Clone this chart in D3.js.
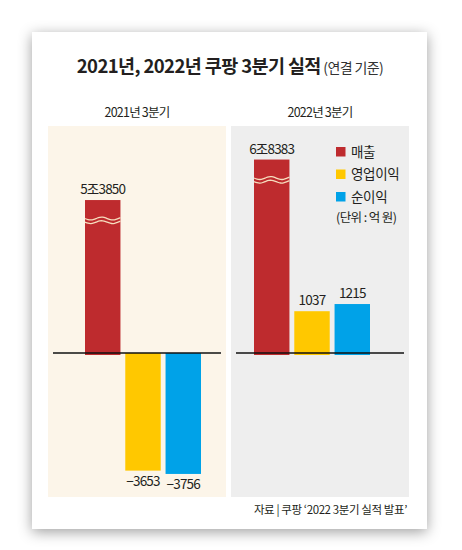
<!DOCTYPE html>
<html><head><meta charset="utf-8">
<script src="https://cdn.jsdelivr.net/npm/d3@7"></script>
<style>
html,body{margin:0;padding:0;background:#fff;}
svg{display:block;font-family:"Noto Sans CJK KR","Noto Sans",sans-serif;}
</style></head>
<body>
<svg id="c" width="462" height="550"></svg>
<script>
// ---- data ----
const categories = ["매출", "영업이익", "순이익"];
const colors = ["#BE2B2E", "#FFC800", "#00A2E8"];
const panels = ["2021년 3분기", "2022년 3분기"];
const values2021 = [53850, -3653, -3756];
const values2022 = [68383, 1037, 1215];
const labels2021 = ["5조3850", "−3653", "−3756"];
const labels2022 = ["6조8383", "1037", "1215"];
// displayed height of the broken (wavy-cut) sales bar, in 억 원
const brokenShown = [4750, 4800];
const title = "2021년, 2022년 쿠팡 3분기 실적";
const titleNote = "(연결 기준)";
const unitNote = "(단위 : 억 원)";
const source = "자료 | 쿠팡 ‘2022 3분기 실적 발표’";

const svg = d3.select("#c");
const defs = svg.append("defs");
const f = defs.append("filter").attr("id","sh").attr("x","-20%").attr("y","-20%").attr("width","140%").attr("height","140%");
f.append("feDropShadow").attr("dx",0).attr("dy",3).attr("stdDeviation",7).attr("flood-color","#000").attr("flood-opacity",0.38);

// card
svg.append("rect").attr("x",32).attr("y",32).attr("width",395).attr("height",497).attr("fill","#fff").attr("filter","url(#sh)");

// title
const t = svg.append("text").attr("x",230).attr("y",73).attr("text-anchor","middle").attr("fill","#231f20");
t.append("tspan").text(title).attr("font-size",18.5).attr("font-weight",700).attr("letter-spacing",-0.6);
t.append("tspan").text(" " + titleNote).attr("font-size",14).attr("font-weight",400).attr("letter-spacing",-0.6).attr("fill","#333");

const zeroY = 353;
const panelDefs = [
  {x0:48, x1:226, bg:"#FCF5E9", vals:values2021, labels:labels2021, shown:brokenShown[0],
   y: d3.scaleLinear().domain([0, 5000]).range([zeroY, zeroY - 161]), bars:[85, 201]},
  {x0:231, x1:409, bg:"#EEEEEE", vals:values2022, labels:labels2022, shown:brokenShown[1],
   y: d3.scaleLinear().domain([0, 5000]).range([zeroY, zeroY - 201.5]), bars:[254, 370]}
];

panelDefs.forEach((p, pi) => {
  const g = svg.append("g");
  g.append("rect").attr("x",p.x0).attr("y",126).attr("width",p.x1-p.x0).attr("height",371).attr("fill",p.bg);
  svg.append("text").attr("x",(p.x0+p.x1)/2).attr("y",117).attr("text-anchor","middle")
    .attr("font-size",12.5).attr("letter-spacing",-0.8).attr("fill","#231f20").text(panels[pi]);

  const x = d3.scaleBand().domain(categories).range(p.bars).paddingInner(0.12);
  const shownVals = p.vals.map((v,i) => i === 0 ? p.shown : v);

  g.selectAll("rect.bar").data(categories).join("rect").attr("class","bar")
    .attr("x", c => x(c))
    .attr("width", x.bandwidth())
    .attr("y", (c,i) => Math.min(p.y(shownVals[i]), p.y(0)))
    .attr("height", (c,i) => Math.abs(p.y(shownVals[i]) - p.y(0)) + (shownVals[i] > 0 ? 2 : 0))
    .attr("fill", (c,i) => colors[i]);

  // wavy break on sales bar
  const bx = x(categories[0]), bw = x.bandwidth();
  const topY = p.y(p.shown);
  const wy = topY + 18.5;
  const line = d3.line().curve(d3.curveBasis);
  [0, 3.6].forEach(off => {
    const pts = d3.range(0, 13).map(k => [bx + bw * k / 12, wy + off + 1.6 * Math.sin(k / 12 * Math.PI * 3.2)]);
    g.append("path").attr("d", line(pts)).attr("fill","none").attr("stroke","#F6DDBE").attr("stroke-width",1.3);
  });

  // zero line
  g.append("line").attr("x1",p.x0+5).attr("x2",p.x1-5).attr("y1",zeroY).attr("y2",zeroY)
    .attr("stroke","#111").attr("stroke-width",1.3);

  // value labels
  g.selectAll("text.val").data(categories).join("text").attr("class","val")
    .attr("x", c => x(c) + bw / 2)
    .attr("y", (c,i) => shownVals[i] >= 0 ? p.y(shownVals[i]) - 6 : p.y(shownVals[i]) + 15)
    .attr("text-anchor","middle").attr("font-size",13.5).attr("letter-spacing",-0.8).attr("fill","#231f20")
    .text((c,i) => p.labels[i]);
});

// legend
const lg = svg.append("g");
categories.forEach((c,i) => {
  const cy = 151.5 + i * 22.5;
  lg.append("rect").attr("x",336).attr("y",cy-4.5).attr("width",9.5).attr("height",9.5).attr("fill",colors[i]);
  lg.append("text").attr("x",351).attr("y",cy+5).attr("font-size",13.5).attr("fill","#231f20").attr("letter-spacing",-0.3).text(c);
});
lg.append("text").attr("x",336).attr("y",222).attr("font-size",12.5).attr("fill","#231f20").attr("letter-spacing",-0.6).text(unitNote);

// source
svg.append("text").attr("x",407).attr("y",514).attr("text-anchor","end").attr("font-size",11.5)
  .attr("letter-spacing",-0.4).attr("fill","#231f20").text(source);
</script>
</body></html>
